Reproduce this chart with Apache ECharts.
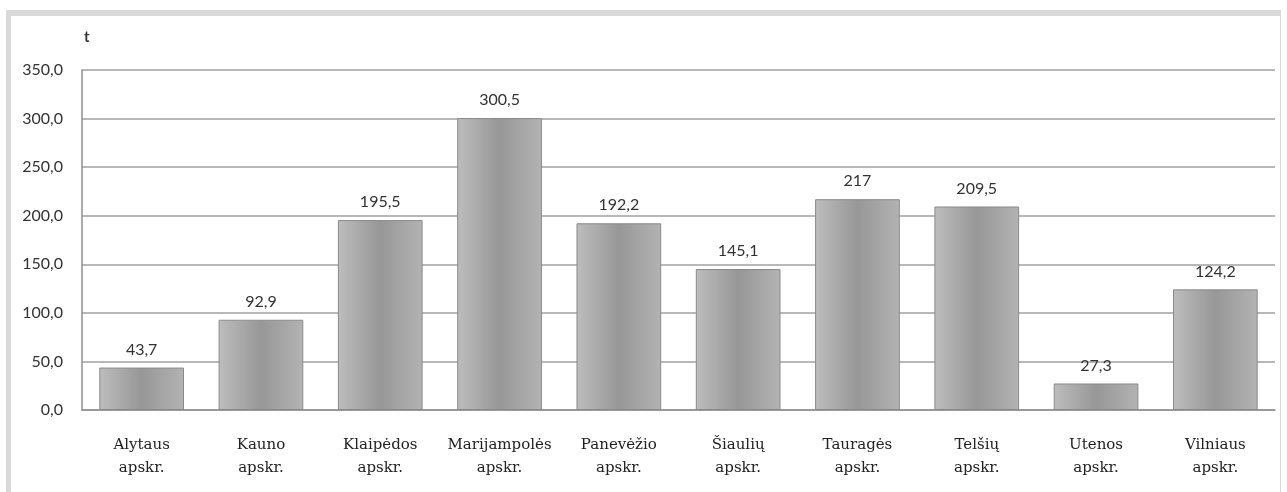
<!DOCTYPE html>
<html>
  <head>
    <meta charset="utf-8" />
    <title>Apskritys</title>
    <script src="https://cdn.jsdelivr.net/npm/echarts@6/dist/echarts.min.js"></script>
    <style>
      body {
        margin: 0;
        padding: 0;
        background: #ffffff;
      }
      #frame {
        position: absolute;
        left: 6px;
        top: 10px;
        width: 1275px;
        height: 482px;
        border-top: 6px solid #d9d9d9;
        border-left: 5px solid #d9d9d9;
        border-right: 1px solid #d9d9d9;
        box-sizing: border-box;
      }
      #main {
        position: absolute;
        left: 0;
        top: 0;
        width: 1287px;
        height: 492px;
      }
    </style>
  </head>
  <body>
    <div id="frame"></div>
    <div id="main"></div>
    <script type="text/javascript">
      var categories = [
        "Alytaus\napskr.",
        "Kauno\napskr.",
        "Klaipėdos\napskr.",
        "Marijampolės\napskr.",
        "Panevėžio\napskr.",
        "Šiaulių\napskr.",
        "Tauragės\napskr.",
        "Telšių\napskr.",
        "Utenos\napskr.",
        "Vilniaus\napskr."
      ];
      var values = [43.7, 92.9, 195.5, 300.5, 192.2, 145.1, 217, 209.5, 27.3, 124.2];
      var unitLabel = "t";

      var myChart = echarts.init(document.getElementById("main"));

      // pilkas stulpelis, tamsesnis per viduri
      var barFill = new echarts.graphic.LinearGradient(0, 0, 1, 0, [
        { offset: 0, color: "#bdbdbd" },
        { offset: 0.5, color: "#979797" },
        { offset: 1, color: "#b3b3b3" }
      ]);

      var option = {
        animation: false,
        grid: {
          left: 82,
          right: 12,
          top: 70,
          bottom: 82
        },
        graphic: [
          {
            type: "text",
            left: 84,
            top: 30,
            style: {
              text: unitLabel,
              font: "bold 15px Lato, sans-serif",
              fill: "#333"
            }
          }
        ],
        xAxis: {
          type: "category",
          data: categories,
          axisLine: { lineStyle: { color: "#909090", width: 1.5 } },
          axisTick: { show: false },
          axisLabel: {
            interval: 0,
            margin: 24,
            lineHeight: 23,
            fontFamily: "DejaVu Serif",
            fontSize: 15,
            color: "#222"
          }
        },
        yAxis: {
          type: "value",
          min: 0,
          max: 350,
          interval: 50,
          axisLine: { show: true, lineStyle: { color: "#909090", width: 1.5 } },
          axisTick: { show: false },
          splitLine: { lineStyle: { color: "#a0a0a0", width: 1.5 } },
          axisLabel: {
            margin: 19,
            fontFamily: "Lato",
            fontSize: 16,
            color: "#333",
            formatter: function (v) {
              return v.toFixed(1).replace(".", ",");
            }
          }
        },
        series: [
          {
            type: "bar",
            data: values,
            barWidth: "71%",
            itemStyle: {
              color: barFill,
              borderColor: "#8a8a8a",
              borderWidth: 1
            },
            label: {
              show: true,
              position: "top",
              distance: 10,
              fontFamily: "Lato",
              fontSize: 16,
              color: "#333",
              formatter: function (p) {
                return String(p.value).replace(".", ",");
              }
            }
          }
        ]
      };

      myChart.setOption(option);
    </script>
  </body>
</html>
